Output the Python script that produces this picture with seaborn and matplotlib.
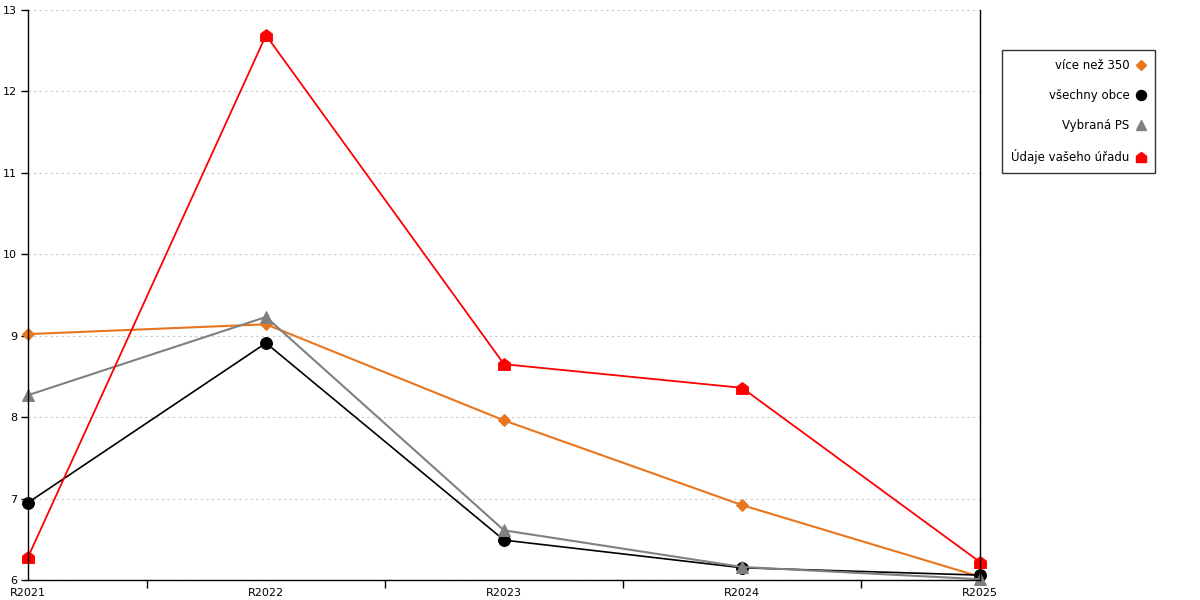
import pandas as pd
import seaborn as sns
import matplotlib.pyplot as plt
from matplotlib.path import Path
from matplotlib.lines import Line2D
from matplotlib.ticker import FixedLocator

years = ["R2021", "R2022", "R2023", "R2024", "R2025"]
vice_nez_350 = [9.02, 9.14, 7.96, 6.92, 6.04]
vsechny_obce = [6.95, 8.91, 6.49, 6.15, 6.06]
vybrana_ps = [8.27, 9.23, 6.61, 6.16, 6.01]
udaje_uradu = [6.28, 12.69, 8.65, 8.36, 6.22]

labels = ["více než 350", "všechny obce", "Vybraná PS", "Údaje vašeho úřadu"]
series = [vice_nez_350, vsechny_obce, vybrana_ps, udaje_uradu]

rows = []
for lab, vals in zip(labels, series):
    for i, v in enumerate(vals):
        rows.append({"rok": i, "hodnota": v, "serie": lab})
df = pd.DataFrame(rows)

# house shaped marker for the office data
house = Path([(-1, -1), (1, -1), (1, 0.25), (0, 1), (-1, 0.25), (-1, -1)],
             [Path.MOVETO] + [Path.LINETO] * 4 + [Path.CLOSEPOLY])

colors = ["#e8761e", "#000000", "#808080", "#ff0000"]
markers = ["D", "o", "^", house]
msizes = [6, 8.5, 8.5, 8.5]
widths = [1.5, 1.2, 1.5, 1.3]

sns.set_style("white")
plt.rcParams["font.family"] = ["DejaVu Sans"]
plt.rcParams["xtick.bottom"] = True
plt.rcParams["ytick.left"] = True

fig = plt.figure(figsize=(12, 6), dpi=100)
ax = fig.add_axes([28 / 1200, 20 / 600, 952 / 1200, 570 / 600])

for lab, c, m, ms, lw in zip(labels, colors, markers, msizes, widths):
    sub = df[df["serie"] == lab]
    sns.lineplot(data=sub, x="rok", y="hodnota", ax=ax, color=c, marker=m,
                 markersize=ms, markeredgecolor=c, linewidth=lw, legend=False,
                 clip_on=False)

ax.set_xlim(0, len(years) - 1)
ax.set_ylim(6, 13)
ax.set_yticks(range(6, 14))
ax.set_xticks(range(len(years)))
ax.set_xticklabels(years)
ax.xaxis.set_minor_locator(FixedLocator([i + 0.5 for i in range(len(years) - 1)]))
ax.tick_params(axis="x", which="major", length=0, labelsize=8, pad=6, colors="black")
ax.tick_params(axis="x", which="minor", bottom=True, length=6, width=1, color="black", direction="out")
ax.tick_params(axis="y", length=5, width=1, color="black", direction="out", labelsize=8,
               labelcolor="black", pad=3)
ax.set_xlabel("")
ax.set_ylabel("")

ax.yaxis.grid(True, linestyle=(0, (2, 3)), color="#c8c8c8", linewidth=0.8)
ax.xaxis.grid(False)
for s in ["left", "bottom", "right"]:
    ax.spines[s].set_visible(True)
    ax.spines[s].set_color("black")
    ax.spines[s].set_linewidth(1)
ax.spines["top"].set_visible(False)

handles = [Line2D([], [], linestyle="none", marker=m, color=c, markeredgecolor=c,
                  markersize=ms * 0.85)
           for c, m, ms in zip(colors, markers, msizes)]
leg = fig.legend(handles, labels, loc="upper right", bbox_to_anchor=(1155 / 1200, 1 - 50 / 600),
                 markerfirst=False, frameon=True, fancybox=False, fontsize=8.5,
                 labelspacing=1.45, borderpad=0.75, handlelength=0.8,
                 handletextpad=0.6, borderaxespad=0)
leg.get_frame().set_edgecolor("black")
leg.get_frame().set_linewidth(1)
leg._legend_box.align = "right"
for t in leg.get_texts():
    t.set_color("black")

plt.savefig("out.png", dpi=100)
